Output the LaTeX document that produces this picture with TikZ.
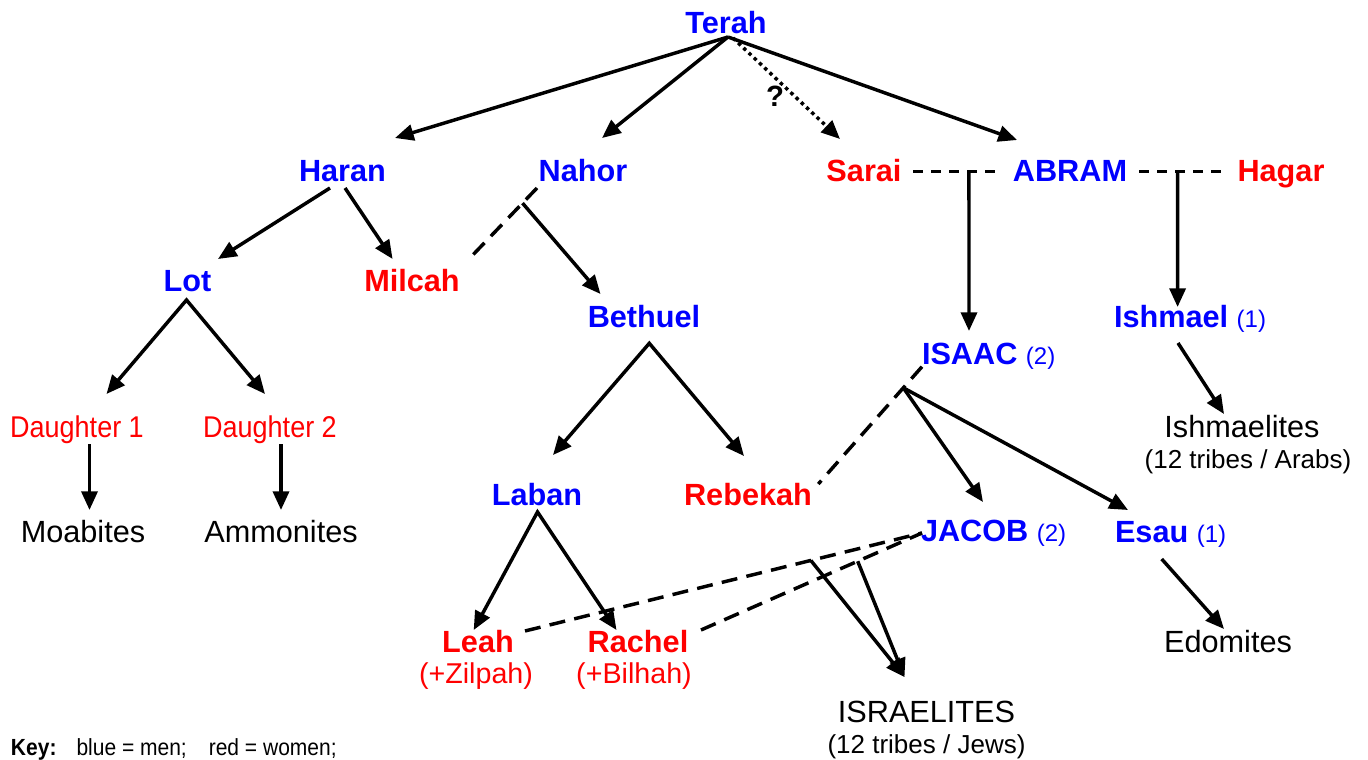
\documentclass[tikz,border=0pt]{standalone}
\usepackage{fontspec}
\setmainfont{Liberation Sans}
\newfontfamily\narrowfont[FakeStretch=0.9]{Liberation Sans}
\usetikzlibrary{arrows.meta,calc}
\definecolor{manblue}{RGB}{0,0,255}
\definecolor{womanred}{RGB}{255,0,0}
\tikzset{
 lbl/.style={inner sep=0pt, outer sep=0pt, anchor=base},
 man/.style={lbl, text=manblue, font=\fontsize{23}{27}\selectfont\bfseries},
 woman/.style={lbl, text=womanred, font=\fontsize{23}{27}\selectfont\bfseries},
 people/.style={lbl, text=black, font=\fontsize{23}{27}\selectfont},
 note/.style={lbl, text=black, font=\fontsize{19.5}{23}\selectfont},
 wnote/.style={lbl, text=womanred, font=\fontsize{21.5}{25}\selectfont},
 daughter/.style={lbl, text=womanred, font=\narrowfont\fontsize{22.5}{26}\selectfont},
 tip/.tip={Triangle[length=14pt,width=12pt]},
 arr/.style={line width=2.6pt, -tip},
 twoarr/.style={line width=2.6pt, tip-tip},
 marriage/.style={line width=2.6pt, dash pattern=on 12pt off 7pt},
 marriageh/.style={line width=2.6pt, dash pattern=on 7.5pt off 6pt},
 uncertain/.style={line width=2.6pt, dash pattern=on 2.6pt off 2.8pt, -tip},
}
\newcommand{\gennum}[1]{{\mdseries\fontsize{18}{21}\selectfont #1}}
\begin{document}
\begin{tikzpicture}[x=0.75pt,y=-0.75pt]
\useasboundingbox (0,0) rectangle (1368,760);
% people
\node[man] (terah) at (726,33) {Terah};
\node[man] (haran) at (342.5,181) {Haran};
\node[man] (nahor) at (583,181) {Nahor};
\node[woman] (sarai) at (864,181) {Sarai};
\node[man] (abram) at (1070,181) {ABRAM};
\node[woman] (hagar) at (1281,181) {Hagar};
\node[man] (lot) at (187.5,291) {Lot};
\node[woman] (milcah) at (412,291) {Milcah};
\node[man] (bethuel) at (644,327) {Bethuel};
\node[man, anchor=base west] (isaac) at (922,364) {ISAAC \gennum{(2)}};
\node[man, anchor=base west] (ishmael) at (1114,327) {Ishmael \gennum{(1)}};
\node[daughter] (d1) at (77,437) {Daughter 1};
\node[daughter] (d2) at (270,437) {Daughter 2};
\node[people] (moab) at (83,542) {Moabites};
\node[people] (ammon) at (281,542) {Ammonites};
\node[man] (laban) at (537,505) {Laban};
\node[woman] (rebekah) at (748,505) {Rebekah};
\node[man, anchor=base west] (jacob) at (921,541) {JACOB \gennum{(2)}};
\node[man, anchor=base west] (esau) at (1115,542) {Esau \gennum{(1)}};
\node[people] (ishmaelites) at (1242,437) {Ishmaelites};
\node[note] (arabs) at (1248,468) {(12 tribes / Arabs)};
\node[woman] (leah) at (478,652) {Leah};
\node[wnote] (zilpah) at (476,683) {(+Zilpah)};
\node[woman] (rachel) at (638,652) {Rachel};
\node[wnote] (bilhah) at (634,683) {(+Bilhah)};
\node[people] (israelites) at (926.5,722) {ISRAELITES};
\node[note] (jews) at (926.5,753) {(12 tribes / Jews)};
\node[people] (edomites) at (1228,652) {Edomites};
\node[lbl, anchor=base west, font=\narrowfont\fontsize{17.5}{21}\selectfont] (key) at (11,755)
  {\textbf{Key:}\hspace{15pt}blue = men;\hspace{16.5pt}red = women;};
\node[lbl, font=\fontsize{22}{26}\selectfont\bfseries] (qmark) at (775,106) {?};
% Terah's children
\draw[arr] ($(terah.base)+(2,4)$) -- ($(haran.base)+(52.5,-43)$);
\draw[arr] ($(terah.base)+(2,4)$) -- ($(nahor.base)+(19,-43)$);
\draw[uncertain] ($(terah.base)+(7,5)$) -- ($(sarai.base)+(-24,-42)$);
\draw[arr] ($(terah.base)+(2,4)$) -- ($(abram.base)+(-53,-41)$);
% Haran
\draw[arr] ($(haran.base)+(-12.5,7)$) -- ($(lot.base)+(30.5,-32)$);
\draw[arr] ($(haran.base)+(2.5,7)$) -- ($(milcah.base)+(-19.4,-32)$);
% Nahor + Milcah
\draw[marriage] ($(nahor.base)+(-46,7)$) -- coordinate[pos=0.21] (nm) ($(milcah.base)+(56,-31)$);
\draw[arr] (nm) -- ($(bethuel.base)+(-43.5,-33)$);
% Lot
\draw[twoarr] ($(d1.base)+(29.5,-43)$) -- ($(lot.base)+(-1,9)$) -- ($(d2.base)+(-5,-43)$);
\draw[arr] ($(d1.base)+(12.5,7)$) -- ($(moab.base)+(6.5,-32)$);
\draw[arr] ($(d2.base)+(11,7)$) -- ($(ammon.base)+(0,-32)$);
% Bethuel
\draw[twoarr] ($(laban.base)+(16,-50)$) -- ($(bethuel.base)+(5.3,16.3)$) -- ($(rebekah.base)+(-4,-49)$);
% Laban
\draw[twoarr] ($(leah.base)+(-4.3,-22)$) -- ($(laban.base)+(0.5,7)$) -- ($(rachel.base)+(-21.5,-22)$);
% Jacob's wives
\draw[marriage] ($(leah.base)+(47,-21)$) -- coordinate[pos=0.72] (lj) ($(jacob.base west)+(1,-8)$);
\draw[marriage] ($(rachel.base)+(63,-22)$) -- coordinate[pos=0.709] (rj) ($(jacob.base west)+(1,-8)$);
\draw[arr] (lj) -- ($(israelites.base)+(-22,-45)$);
\draw[arr] (rj) -- ($(israelites.base)+(-22,-45)$);
% Isaac + Rebekah
\draw[marriage] ($(isaac.base west)+(0,2.7)$) -- coordinate[pos=0.18] (ir) ($(rebekah.base)+(70.3,-21)$);
\draw[arr] (ir) -- ($(jacob.base west)+(62,-39)$);
\draw[arr] (ir) -- ($(esau.base west)+(13,-32)$);
% Abram's wives
\draw[marriageh] ($(sarai.base)+(49,-9.3)$) -- coordinate[pos=0.636] (sa) ($(abram.base)+(-69,-9.3)$);
\draw[arr] (sa) -- ($(isaac.base west)+(47,-33)$);
\draw[marriageh] ($(abram.base)+(69,-9.3)$) -- coordinate[pos=0.445] (ah) ($(hagar.base)+(-55.3,-9.3)$);
\draw[arr] (ah) -- ($(ishmael.base west)+(63.6,-20)$);
% descendants
\draw[arr] ($(ishmael.base west)+(64,16)$) -- ($(ishmaelites.base)+(-18,-23)$);
\draw[arr] ($(esau.base west)+(46.7,17)$) -- ($(edomites.base)+(-4,-23)$);
\end{tikzpicture}
\end{document}
